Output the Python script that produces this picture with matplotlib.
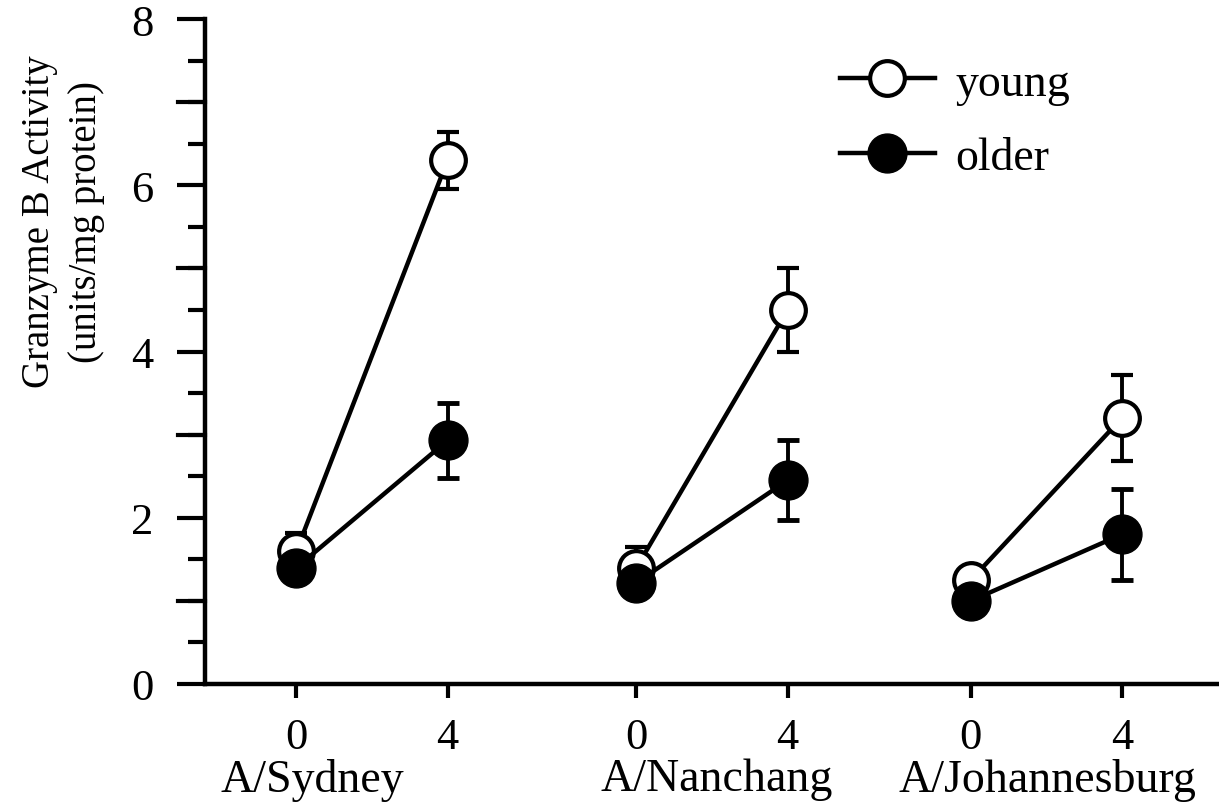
import numpy as np
import matplotlib.pyplot as plt
from matplotlib.ticker import MultipleLocator
import matplotlib.transforms as mtransforms

plt.rcParams['font.family'] = ['Liberation Serif', 'DejaVu Serif']

# data
strains = ['A/Sydney', 'A/Nanchang', 'A/Johannesburg']
days = ['0', '4']
young = [[1.6, 6.3], [1.4, 4.5], [1.25, 3.2]]
young_err = [[0.22, 0.34], [0.25, 0.5], [0.1, 0.52]]
older = [[1.4, 2.93], [1.22, 2.45], [1.0, 1.8]]
older_err = [[0.1, 0.45], [0.1, 0.48], [0.1, 0.55]]

# layout: x position of each group's day-0 point, day-4 offset
group_x = [0, 9, 17.85]
day_gap = 4
label_x = [0.42, 11.13, 19.87]

fig = plt.figure(figsize=(12.19, 8.04), dpi=100)
ax = fig.add_axes([205 / 1219, 119 / 804, 1014 / 1219, 665 / 804])

handles = []
for i in range(len(strains)):
    xs = [group_x[i], group_x[i] + day_gap]
    yc = ax.errorbar(xs, young[i], yerr=young_err[i], color='black', lw=3.2,
                     marker='o', ms=25, mfc='white', mec='black', mew=3,
                     elinewidth=2.8, capsize=8, capthick=3.5, zorder=3)
    oc = ax.errorbar(xs, older[i], yerr=older_err[i], color='black', lw=3.2,
                     marker='o', ms=28, mfc='black', mec='black',
                     elinewidth=2.8, capsize=8, capthick=3.5, zorder=4)
    if i == 0:
        handles = [yc.lines[0], oc.lines[0]]

ax.set_xlim(-2.42, 24.42)
ax.set_ylim(0, 8)

ticks = []
for g in group_x:
    ticks += [g, g + day_gap]
ax.set_xticks(ticks)
ax.set_xticklabels(days * len(strains), fontsize=32)
ax.yaxis.set_major_locator(MultipleLocator(2))
ax.yaxis.set_minor_locator(MultipleLocator(0.5))
ax.tick_params(axis='y', which='major', length=20, width=3, labelsize=32, pad=17)
ax.tick_params(axis='y', which='minor', length=12, width=3)
ax.tick_params(axis='x', length=10, width=3, pad=14)

# integer ticks (1,3,5,7) long too
for yv in [1, 3, 5, 7]:
    ax.plot([-0.027, 0], [yv / 8, yv / 8], transform=ax.transAxes, color='black',
            lw=3, clip_on=False)

for s in ['top', 'right']:
    ax.spines[s].set_visible(False)
for s in ['left', 'bottom']:
    ax.spines[s].set_linewidth(3.2)

trans = mtransforms.blended_transform_factory(ax.transData, ax.transAxes)
for name, lx in zip(strains, label_x):
    ax.text(lx, -0.143, name, transform=trans, ha='center', va='center', fontsize=33)

fig.text(0.052, 1 - 222 / 804, 'Granzyme B Activity\n(units/mg protein)',
         rotation=90, ha='center', va='center', fontsize=28, linespacing=1.35,
         multialignment='center')

ax.legend(handles, ['young', 'older'], loc='upper left',
          bbox_to_anchor=(840 / 1219, 1 - 63 / 804),
          bbox_transform=fig.transFigure, frameon=False, fontsize=33,
          handlelength=2.07, handletextpad=0.44, labelspacing=0.7,
          borderpad=0, borderaxespad=0)

fig.savefig('out.png', dpi=100)
